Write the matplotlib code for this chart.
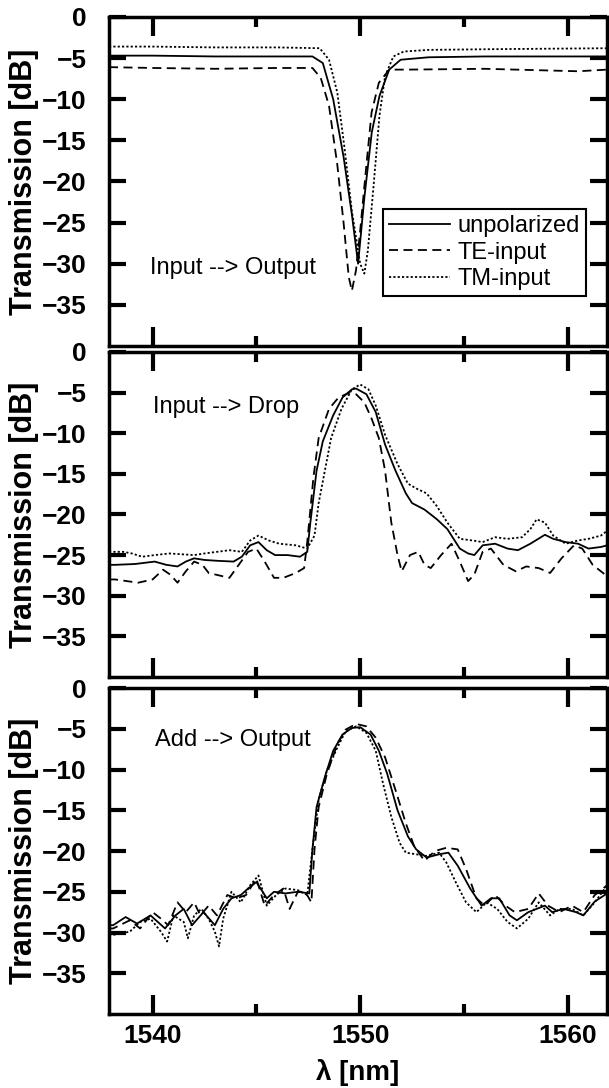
import matplotlib
matplotlib.use("Agg")
import matplotlib.pyplot as plt
from matplotlib.ticker import MultipleLocator

plt.rcParams['font.family'] = ['Liberation Sans', 'DejaVu Sans']

# ---- panel 1: Input --> Output (through port) ----
p1_unpol_wl = [1537.9, 1540, 1543, 1546, 1547.7, 1548.2, 1548.7, 1549.2, 1549.6, 1549.9,
               1550.2, 1550.56, 1550.93, 1551.4, 1551.95, 1553.3, 1556, 1559, 1561.9]
p1_unpol_db = [-4.7, -4.7, -4.8, -4.8, -4.8, -5.6, -10, -17, -24, -30,
               -22, -14, -9.6, -6.4, -5.2, -4.9, -4.8, -4.8, -4.8]

p1_te_wl = [1537.9, 1540, 1543, 1546, 1547.7, 1548.1, 1548.5, 1548.9, 1549.2, 1549.45, 1549.6,
            1549.8, 1550.0, 1550.3, 1550.55, 1550.9, 1551.4, 1552.3, 1556, 1560.5, 1561.9]
p1_te_db = [-6.1, -6.2, -6.3, -6.2, -6.2, -7.4, -10.8, -18, -25, -31.6, -33.3,
            -30.8, -26, -18, -11.6, -8, -6.4, -6.4, -6.3, -6.6, -6.4]

p1_tm_wl = [1537.9, 1540, 1543, 1546, 1548.05, 1548.5, 1548.9, 1549.25, 1549.6, 1550.0, 1550.2,
            1550.37, 1550.65, 1550.93, 1551.2, 1551.6, 1552.1, 1553.3, 1557, 1561.9]
p1_tm_db = [-3.6, -3.6, -3.7, -3.7, -3.8, -5.2, -9.2, -16, -23.6, -30, -31.2,
            -28.4, -20.4, -12, -7.2, -4.8, -4.2, -4.0, -3.9, -3.8]

# ---- panel 2: Input --> Drop ----
p2_unpol_wl = [1537.9, 1538.2, 1539.15, 1540.1, 1540.66, 1541.2, 1541.6, 1542, 1542.5, 1543.1, 1543.9,
               1544.3, 1544.7, 1545.1, 1545.5, 1545.9, 1546.5, 1547.1, 1547.45, 1547.6, 1547.9,
               1548.2, 1548.7, 1549.15, 1549.6, 1549.8, 1550.3, 1550.75, 1551.2, 1551.7, 1552.2,
               1552.5, 1553.1, 1553.7, 1554.2, 1554.8, 1555.2, 1555.5, 1555.9, 1556.5, 1557.1,
               1557.6, 1558.2, 1558.9, 1559.3, 1559.9, 1560.5, 1561, 1561.6, 1561.9]
p2_unpol_db = [-26.2, -26.2, -26.1, -25.8, -26.2, -26.4, -25.8, -25.4, -25.6, -25.7, -25.8,
               -25.2, -23.8, -23.4, -24.4, -25, -25, -25.2, -24.6, -21, -14.6,
               -11, -7.8, -5.6, -4.6, -4.5, -5.2, -7.4, -11.4, -14.6, -17.4,
               -18.6, -19.4, -20.6, -21.8, -24.2, -24.8, -25, -23.8, -23.6, -24.2,
               -24.4, -23.6, -22.5, -23, -23.4, -23.6, -24.2, -24, -23.8]

p2_te_wl = [1537.9, 1538.2, 1539.3, 1540, 1540.5, 1540.85, 1541.2, 1541.6, 1542, 1542.4, 1542.7,
            1543.7, 1544.15, 1544.6, 1545, 1545.4, 1545.85, 1546.3, 1546.9, 1547.3, 1547.45,
            1547.75, 1548, 1548.5, 1548.96, 1549.5, 1549.8, 1550.2, 1550.55, 1550.9, 1551.2,
            1551.5, 1551.8, 1552, 1552.4, 1552.8, 1553.1, 1553.4, 1553.9, 1554.4, 1554.8,
            1555.2, 1555.5, 1555.9, 1556.3, 1556.9, 1557.5, 1558, 1558.6, 1559.15, 1559.7,
            1560.3, 1560.7, 1561.2, 1561.9]
p2_te_db = [-28, -28, -28.4, -28, -26.8, -27.4, -28.4, -27, -25.8, -26.2, -27.2,
            -27.8, -26.2, -24.6, -24.2, -25.8, -27.8, -27.8, -27.2, -26.6, -23.4,
            -15.4, -10.6, -7, -5.6, -5, -5.2, -6.2, -8.2, -10.6, -14.6,
            -21, -25, -27, -25, -24.6, -26.2, -26.6, -25, -23.6, -25.8,
            -28.2, -27.4, -24.6, -24.2, -26.2, -27, -26.4, -26.6, -27.2, -25.4,
            -23.8, -24.2, -26.2, -27.6]

p2_tm_wl = [1537.9, 1538.6, 1539.0, 1539.5, 1540.1, 1540.8, 1542, 1542.5, 1543.1, 1543.7, 1544.3,
            1544.7, 1545.1, 1545.6, 1546.1, 1546.9, 1547.45, 1547.8, 1548, 1548.3, 1548.6,
            1549.1, 1549.6, 1550, 1550.4, 1550.75, 1551.2, 1551.8, 1552.3, 1552.7, 1553.2,
            1553.7, 1554.2, 1554.8, 1555.4, 1555.9, 1556.5, 1557.1, 1557.8, 1558.2, 1558.5,
            1558.9, 1559.3, 1559.9, 1560.5, 1561, 1561.6, 1561.9]
p2_tm_db = [-24.6, -24.6, -24.8, -25.2, -25, -24.8, -25, -24.8, -24.6, -24.4, -24.6,
            -23.2, -22.6, -23.2, -23.6, -23.8, -24.2, -22.6, -18.6, -14.6, -10.6,
            -7, -4.6, -4, -4.6, -6.6, -10.2, -13.8, -16.2, -16.8, -17.4,
            -19, -21, -23, -23.2, -23.4, -22.8, -23, -22.8, -21.8, -20.6,
            -21, -22.6, -23.6, -23.2, -23, -22.6, -22]

# ---- panel 3: Add --> Output ----
p3_unpol_wl = [1537.9, 1538.1, 1538.7, 1539.25, 1539.9, 1540.6, 1541.1, 1541.5, 1541.9, 1542.45, 1543,
               1543.4, 1543.8, 1544.25, 1544.6, 1545, 1545.5, 1545.85, 1546.4, 1547, 1547.55,
               1547.7, 1547.9, 1548.3, 1548.7, 1549.15, 1549.6, 1550, 1550.5, 1550.9, 1551.3,
               1551.8, 1552.3, 1552.7, 1553.2, 1553.8, 1554.25, 1554.7, 1555.3, 1555.85, 1556.3,
               1556.7, 1557.2, 1557.55, 1558.1, 1558.9, 1559.25, 1559.8, 1560.4, 1560.75, 1561.3,
               1561.9]
p3_unpol_db = [-29.1, -29.1, -28.1, -28.9, -27.9, -29.5, -27.9, -27.1, -29.1, -27.5, -29.1,
               -27.1, -25.8, -25.4, -24.6, -23.8, -25.8, -25, -25.2, -25, -25.2,
               -19.8, -14.6, -10.9, -7.7, -5.7, -4.9, -4.8, -5.7, -7.7, -10.5,
               -15, -18.2, -19.8, -20.8, -20.4, -20.2, -21.8, -24.6, -26.7, -25.8,
               -25.8, -27.9, -28.5, -27.5, -26.7, -27.5, -27.1, -27.5, -27.9, -26.2,
               -25.2]

p3_te_wl = [1537.9, 1538.1, 1538.9, 1539.4, 1540, 1540.4, 1540.75, 1541.2, 1541.6, 1542, 1542.3,
            1542.7, 1543.1, 1543.6, 1544.05, 1544.5, 1545, 1545.4, 1545.85, 1546.3, 1546.6,
            1547, 1547.35, 1547.65, 1547.8, 1548, 1548.4, 1548.9, 1549.3, 1549.8, 1550.3,
            1550.75, 1551.2, 1551.7, 1552.2, 1552.6, 1553.1, 1553.6, 1554.15, 1554.7, 1555.1,
            1555.6, 1556, 1556.5, 1557, 1557.45, 1558.1, 1558.6, 1559.05, 1559.6, 1560.2,
            1560.75, 1561.3, 1561.9]
p3_te_db = [-29.5, -29.5, -28.5, -29.5, -27.5, -28.3, -29.1, -26.3, -27.5, -26.3, -27.9,
            -26.7, -27.9, -25.4, -25.8, -25.4, -23.4, -26.7, -25.4, -24.6, -27.1,
            -25, -25, -26.3, -19.8, -14.6, -10.5, -6.9, -5.1, -4.4, -4.7,
            -6.1, -8.5, -12.5, -16.6, -19.4, -21.2, -20, -19.6, -19.8, -22.2,
            -25.8, -26.7, -25.4, -26.7, -27.5, -27.1, -25.2, -26.7, -27.5, -26.7,
            -27.5, -25.4, -24.2]

p3_tm_wl = [1537.9, 1538.1, 1538.9, 1539.4, 1539.9, 1540.4, 1540.7, 1541, 1541.5, 1541.7, 1542,
            1542.35, 1542.7, 1543, 1543.2, 1543.4, 1543.8, 1544.25, 1544.7, 1545.1, 1545.5,
            1545.95, 1546.4, 1547, 1547.45, 1547.7, 1548, 1548.4, 1548.9, 1549.3, 1549.8,
            1550.3, 1550.75, 1551.1, 1551.5, 1551.9, 1552.2, 1552.7, 1553.2, 1553.8, 1554.15,
            1554.6, 1555.1, 1555.6, 1556.1, 1556.6, 1557.1, 1557.55, 1558.1, 1558.6, 1559.15,
            1559.6, 1560.2, 1560.75, 1561.3, 1561.9]
p3_tm_db = [-30.3, -30.3, -29.9, -28.7, -28.3, -29.9, -31.1, -27.9, -28.7, -30.7, -27.9,
            -27.1, -28.3, -29.9, -31.7, -28.3, -25, -26.3, -24.2, -23, -26.7,
            -25.4, -24.6, -24.8, -25.4, -19.8, -13.7, -10.1, -7.3, -5.3, -4.7,
            -5.5, -7.7, -11.7, -15.8, -19, -20.2, -20.4, -20.6, -20.2, -21.4,
            -23.8, -26.3, -27.5, -26.3, -27.1, -28.7, -29.5, -28.3, -26.3, -27.9,
            -27.1, -27.1, -27.9, -26.3, -24.2]

series_labels = ["unpolarized", "TE-input", "TM-input"]
panel_titles = ["Input --> Output", "Input --> Drop", "Add --> Output"]
panels = [
    [(p1_unpol_wl, p1_unpol_db), (p1_te_wl, p1_te_db), (p1_tm_wl, p1_tm_db)],
    [(p2_unpol_wl, p2_unpol_db), (p2_te_wl, p2_te_db), (p2_tm_wl, p2_tm_db)],
    [(p3_unpol_wl, p3_unpol_db), (p3_te_wl, p3_te_db), (p3_tm_wl, p3_tm_db)],
]
ytick_vals = [0, -5, -10, -15, -20, -25, -30, -35]
xtick_vals = [1540, 1550, 1560]

styles = ["-", (0, (5, 3)), (0, (1.2, 1.2))]

fig = plt.figure(figsize=(6.09, 10.88), dpi=100)
# axes boxes in figure fractions (left, bottom, width, height)
boxes = [(0.179, 0.682, 0.818, 0.3024),
         (0.179, 0.3778, 0.818, 0.2987),
         (0.179, 0.068, 0.818, 0.2996)]
text_pos = [(0.082, 0.237), (0.088, 0.831), (0.092, 0.84)]

for i, box in enumerate(boxes):
    ax = fig.add_axes(box)
    for (wl, db), ls, lab in zip(panels[i], styles, series_labels):
        ax.plot(wl, db, color="black", linestyle=ls, linewidth=1.3, label=lab)
    ax.set_xlim(1537.9, 1561.9)
    ax.set_ylim(-40, 0)
    ax.set_xticks(xtick_vals)
    ax.xaxis.set_minor_locator(MultipleLocator(5))
    ax.set_yticks(ytick_vals)
    ax.tick_params(axis="both", which="major", direction="in", top=True, right=True,
                   width=3, labelsize=19)
    ax.tick_params(axis="x", which="major", length=14, pad=7)
    ax.tick_params(axis="x", which="minor", direction="in", top=True, length=7, width=3)
    ax.tick_params(axis="y", which="major", length=12, pad=16)
    for lab in ax.get_xticklabels() + ax.get_yticklabels():
        lab.set_fontweight("bold")
    for sp in ax.spines.values():
        sp.set_linewidth(2.5)
    ax.set_ylabel("Transmission [dB]", fontsize=22, fontweight="bold")
    ax.yaxis.set_label_coords(-0.14, 0.5)
    ax.text(text_pos[i][0], text_pos[i][1], panel_titles[i], transform=ax.transAxes,
            fontsize=17, va="center", ha="left")
    if i < 2:
        ax.tick_params(axis="x", labelbottom=False)
    else:
        ax.set_xlabel("λ [nm]", fontsize=20, fontweight="bold", labelpad=8)
    if i == 0:
        leg = ax.legend(loc="upper left", bbox_to_anchor=(0.550, 0.416), borderaxespad=0,
                        fontsize=17, handlelength=2.6, handletextpad=0.3,
                        labelspacing=0.2, borderpad=0.25, fancybox=False, framealpha=1)
        leg.get_frame().set_edgecolor("black")
        leg.get_frame().set_linewidth(1.5)

fig.savefig("out.png", dpi=100)
